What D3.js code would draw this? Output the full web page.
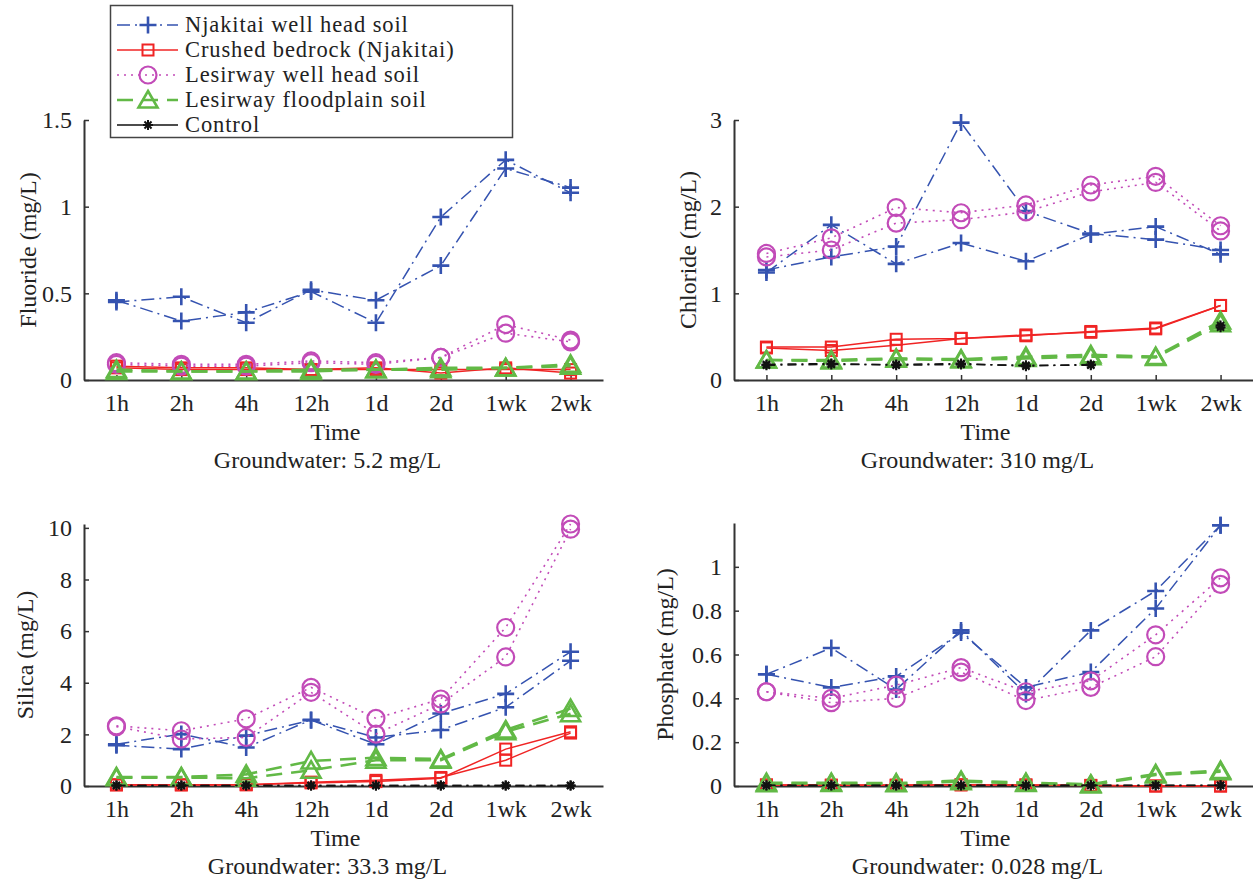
<!DOCTYPE html>
<html>
<head>
<meta charset="utf-8">
<script src="https://cdn.jsdelivr.net/npm/d3@7"></script>
<style>
  body { margin: 0; background: #fff; }
  svg { display: block; }
</style>
</head>
<body>
<svg id="chart" width="1253" height="886"></svg>
<script>
// ---------- data ----------
const timeLabels = ["1h", "2h", "4h", "12h", "1d", "2d", "1wk", "2wk"];
const seriesNames = ["Njakitai well head soil", "Crushed bedrock (Njakitai)", "Lesirway well head soil", "Lesirway floodplain soil", "Control"];

// Fluoride (mg/L), two replicates each
const fluorideNjA = [0.45, 0.48, 0.33, 0.52, 0.46, 0.66, 1.22, 1.11];
const fluorideNjB = [0.46, 0.34, 0.39, 0.51, 0.33, 0.94, 1.27, 1.08];
const fluorideRockA = [0.08, 0.07, 0.07, 0.06, 0.07, 0.04, 0.07, 0.04];
const fluorideRockB = [0.07, 0.06, 0.06, 0.06, 0.06, 0.06, 0.06, 0.06];
const fluorideLwA = [0.10, 0.09, 0.09, 0.11, 0.10, 0.13, 0.32, 0.23];
const fluorideLwB = [0.09, 0.08, 0.08, 0.10, 0.09, 0.13, 0.27, 0.22];
const fluorideFpA = [0.06, 0.05, 0.05, 0.06, 0.06, 0.07, 0.07, 0.09];
const fluorideFpB = [0.05, 0.05, 0.05, 0.05, 0.06, 0.06, 0.07, 0.08];
const fluorideCtlA = [null, null, null, null, null, null, null, null];
const fluorideCtlB = [null, null, null, null, null, null, null, null];

// Chloride (mg/L)
const chlorideNjA = [1.27, 1.42, 1.54, 2.97, 1.95, 1.69, 1.62, 1.50];
const chlorideNjB = [1.24, 1.79, 1.34, 1.58, 1.37, 1.68, 1.77, 1.45];
const chlorideRockA = [0.38, 0.38, 0.47, 0.48, 0.51, 0.56, 0.60, 0.86];
const chlorideRockB = [0.37, 0.34, 0.40, 0.48, 0.52, 0.55, 0.59, 0.86];
const chlorideLwA = [1.46, 1.64, 1.99, 1.93, 2.02, 2.25, 2.35, 1.78];
const chlorideLwB = [1.42, 1.50, 1.81, 1.85, 1.94, 2.17, 2.28, 1.72];
const chlorideFpA = [0.23, 0.23, 0.25, 0.24, 0.27, 0.29, 0.27, 0.68];
const chlorideFpB = [0.23, 0.22, 0.24, 0.23, 0.25, 0.27, 0.26, 0.65];
const chlorideCtlA = [0.18, 0.19, 0.17, 0.18, 0.17, 0.17, null, 0.63];
const chlorideCtlB = [0.17, 0.18, 0.18, 0.19, 0.16, 0.18, null, 0.61];

// Silica (mg/L)
const silicaNjA = [1.62, 2.01, 1.49, 2.56, 1.88, 2.17, 3.05, 4.85];
const silicaNjB = [1.58, 1.43, 1.95, 2.55, 1.62, 2.81, 3.57, 5.20];
const silicaRockA = [0.05, 0.05, 0.05, 0.12, 0.17, 0.30, 1.43, 2.10];
const silicaRockB = [0.04, 0.04, 0.05, 0.15, 0.22, 0.33, 1.00, 2.05];
const silicaLwA = [2.33, 2.14, 2.60, 3.82, 2.62, 3.37, 6.14, 10.15];
const silicaLwB = [2.30, 1.82, 1.88, 3.63, 2.01, 3.18, 5.00, 9.95];
const silicaFpA = [0.35, 0.35, 0.45, 0.97, 1.10, 1.04, 2.17, 3.00];
const silicaFpB = [0.32, 0.33, 0.30, 0.61, 1.00, 1.00, 2.10, 2.80];
const silicaCtlA = [0.02, 0.02, 0.02, 0.02, 0.02, 0.02, 0.02, 0.02];
const silicaCtlB = [0.02, 0.02, 0.02, 0.02, 0.02, 0.02, 0.02, 0.02];

// Phosphate (mg/L)
const phosphateNjA = [0.51, 0.63, 0.44, 0.71, 0.42, 0.71, 0.89, 1.19];
const phosphateNjB = [0.51, 0.45, 0.50, 0.70, 0.45, 0.52, 0.81, 1.19];
const phosphateRockA = [0.005, 0.004, 0.004, 0.006, 0.005, 0.003, 0.0, 0.0];
const phosphateRockB = [0.004, 0.003, 0.003, 0.005, 0.004, 0.002, 0.0, 0.0];
const phosphateLwA = [0.43, 0.40, 0.46, 0.54, 0.43, 0.48, 0.69, 0.95];
const phosphateLwB = [0.43, 0.38, 0.40, 0.52, 0.39, 0.45, 0.59, 0.92];
const phosphateFpA = [0.015, 0.015, 0.013, 0.025, 0.015, 0.008, 0.055, 0.07];
const phosphateFpB = [0.010, 0.012, 0.010, 0.020, 0.012, 0.005, 0.050, 0.065];
const phosphateCtlA = [0.003, 0.003, 0.003, 0.003, 0.003, 0.003, 0.003, 0.003];
const phosphateCtlB = [0.002, 0.002, 0.002, 0.002, 0.002, 0.002, 0.002, 0.002];

const panelTitles = ["Fluoride (mg/L)", "Chloride (mg/L)", "Silica (mg/L)", "Phosphate (mg/L)"];
const groundwaterLabels = ["Groundwater: 5.2 mg/L", "Groundwater: 310 mg/L", "Groundwater: 33.3 mg/L", "Groundwater: 0.028 mg/L"];
const yMax = [1.5, 3, 10.15, 1.2];
const yTicks = [[0, 0.5, 1, 1.5], [0, 1, 2, 3], [0, 2, 4, 6, 8, 10], [0, 0.2, 0.4, 0.6, 0.8, 1]];

// ---------- styles ----------
const FONT = "'Liberation Serif', 'Times New Roman', Times, 'DejaVu Serif', serif";
const styles = [
  { color: "#3553b0", dash: "13,5,2,5", width: 1.5, marker: "plus" },
  { color: "#f02424", dash: null, width: 1.5, marker: "square" },
  { color: "#c24bb8", dash: "2,5", width: 1.6, marker: "circle" },
  { color: "#62b946", dash: "16,9", width: 2.6, marker: "triangle" },
  { color: "#111111", dash: "9,5,2,5", width: 1.5, marker: "star" }
];

const panelData = [
  [[fluorideNjA, fluorideNjB], [fluorideRockA, fluorideRockB], [fluorideLwA, fluorideLwB], [fluorideFpA, fluorideFpB], [fluorideCtlA, fluorideCtlB]],
  [[chlorideNjA, chlorideNjB], [chlorideRockA, chlorideRockB], [chlorideLwA, chlorideLwB], [chlorideFpA, chlorideFpB], [chlorideCtlA, chlorideCtlB]],
  [[silicaNjA, silicaNjB], [silicaRockA, silicaRockB], [silicaLwA, silicaLwB], [silicaFpA, silicaFpB], [silicaCtlA, silicaCtlB]],
  [[phosphateNjA, phosphateNjB], [phosphateRockA, phosphateRockB], [phosphateLwA, phosphateLwB], [phosphateFpA, phosphateFpB], [phosphateCtlA, phosphateCtlB]]
];

const panels = [
  { left: 84, right: 603, top: 120, bottom: 380, labelOff: 56 },
  { left: 734, right: 1253, top: 120, bottom: 380, labelOff: 46 },
  { left: 84, right: 603, top: 524, bottom: 786, labelOff: 59 },
  { left: 734, right: 1253, top: 523, bottom: 786, labelOff: 69 }
];

const svg = d3.select("#chart");
const axisColor = "#333";

function drawMarker(g, type, x, y, color) {
  if (type === "plus") {
    g.append("path").attr("d", `M${x - 8.5},${y}H${x + 8.5}M${x},${y - 8.5}V${y + 8.5}`)
      .attr("stroke", color).attr("stroke-width", 2.6).attr("fill", "none");
  } else if (type === "square") {
    g.append("rect").attr("x", x - 5.5).attr("y", y - 5.5).attr("width", 11).attr("height", 11)
      .attr("stroke", color).attr("stroke-width", 2).attr("fill", "none");
  } else if (type === "circle") {
    g.append("circle").attr("cx", x).attr("cy", y).attr("r", 8.5)
      .attr("stroke", color).attr("stroke-width", 2.2).attr("fill", "none");
  } else if (type === "triangle") {
    g.append("path").attr("d", `M${x},${y - 9}L${x + 9.5},${y + 7.5}L${x - 9.5},${y + 7.5}Z`)
      .attr("stroke", color).attr("stroke-width", 2.6).attr("fill", "none").attr("stroke-linejoin", "miter");
  } else if (type === "star") {
    const r = 5;
    let d = "";
    for (let k = 0; k < 4; k++) {
      const a = k * Math.PI / 4;
      d += `M${x - r * Math.cos(a)},${y - r * Math.sin(a)}L${x + r * Math.cos(a)},${y + r * Math.sin(a)}`;
    }
    g.append("path").attr("d", d).attr("stroke", color).attr("stroke-width", 2).attr("fill", "none");
  }
}

panels.forEach((p, pi) => {
  const x = d3.scaleLinear().domain([0.5, 8.5]).range([p.left, p.right]);
  const y = d3.scaleLinear().domain([0, yMax[pi]]).range([p.bottom, p.top]);
  const g = svg.append("g");

  // axes (ticks inward)
  const xAxis = d3.axisBottom(x).tickValues(d3.range(1, 9)).tickFormat(i => timeLabels[i - 1]).tickSizeInner(-5).tickSizeOuter(0).tickPadding(14);
  const xg = g.append("g").attr("transform", `translate(0,${p.bottom})`).call(xAxis);
  const yAxis = d3.axisLeft(y).tickValues(yTicks[pi]).tickFormat(d => String(+d.toFixed(2))).tickSizeInner(-5).tickSizeOuter(0).tickPadding(12);
  const yg = g.append("g").attr("transform", `translate(${p.left},0)`).call(yAxis);
  [xg, yg].forEach(ax => {
    ax.attr("font-family", FONT).attr("font-size", 24);
    ax.select(".domain").attr("stroke", axisColor).attr("stroke-width", 2);
    ax.selectAll(".tick line").attr("stroke", axisColor).attr("stroke-width", 1.5);
    ax.selectAll(".tick text").attr("fill", "#222");
  });

  // axis titles
  const midX = p.left + (603 - 84) / 2 - 8;
  g.append("text").attr("x", midX).attr("y", p.bottom + 60)
    .attr("text-anchor", "middle").attr("font-size", 24).text("Time");
  g.append("text").attr("x", midX - 8).attr("y", p.bottom + 88)
    .attr("text-anchor", "middle").attr("font-size", 24).text(groundwaterLabels[pi]);
  g.append("text").attr("transform", `translate(${p.left - p.labelOff + 8},${(p.top + p.bottom) / 2}) rotate(-90)`)
    .attr("text-anchor", "middle").attr("font-size", 24).text(panelTitles[pi]);

  // series
  const line = d3.line().defined(d => d.v !== null).x(d => x(d.i)).y(d => y(d.v));
  panelData[pi].forEach((reps, si) => {
    const st = styles[si];
    reps.forEach(rep => {
      const pts = rep.map((v, k) => ({ i: k + 1, v: v }));
      g.append("path").datum(pts).attr("d", line).attr("fill", "none")
        .attr("stroke", st.color).attr("stroke-width", st.width)
        .attr("stroke-dasharray", st.dash);
      pts.filter(d => d.v !== null).forEach(d => drawMarker(g, st.marker, x(d.i), y(d.v), st.color));
    });
  });
});

// legend
const lg = svg.append("g");
lg.append("rect").attr("x", 110.5).attr("y", 5.5).attr("width", 402).attr("height", 132)
  .attr("fill", "#fff").attr("stroke", "#444").attr("stroke-width", 1.5);
seriesNames.forEach((name, i) => {
  const yy = 25 + i * 25;
  const st = styles[i];
  lg.append("line").attr("x1", 117).attr("x2", 178).attr("y1", yy).attr("y2", yy)
    .attr("stroke", st.color).attr("stroke-width", st.width).attr("stroke-dasharray", i === 4 ? null : st.dash);
  drawMarker(lg, st.marker, 148, yy, st.color);
  lg.append("text").attr("x", 185).attr("y", yy + 7).attr("font-size", 22.5)
    .attr("letter-spacing", 0.9).text(name);
});

svg.selectAll("text").attr("font-family", FONT).style("font-family", FONT).attr("fill", "#222");
</script>
</body>
</html>
